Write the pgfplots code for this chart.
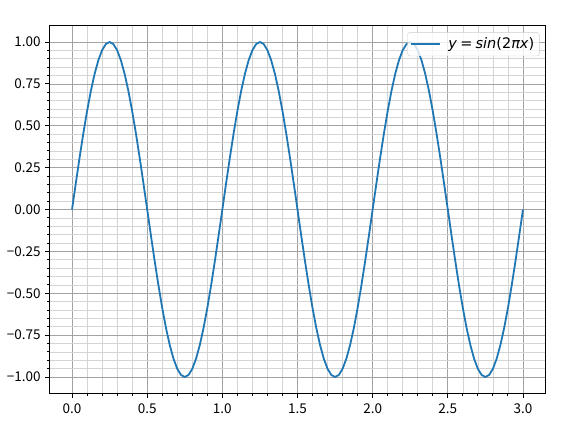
\documentclass[border=0pt]{standalone}
\usepackage{fontspec}
\usepackage{pgfplots}
\pgfplotsset{compat=1.18}
\newfontfamily\jpfont{Noto Sans CJK JP}
\newfontfamily\djv{DejaVu Sans}
\definecolor{mplblue}{HTML}{1F77B4}
\begin{document}
\begin{tikzpicture}
\begin{axis}[
  scale only axis,
  width=496pt, height=368.5pt,
  xmin=-0.15, xmax=3.15, ymin=-1.1, ymax=1.1,
  xtick={0,0.5,1,1.5,2,2.5,3},
  xticklabels={0.0,0.5,1.0,1.5,2.0,2.5,3.0},
  ytick={-1,-0.75,-0.5,-0.25,0,0.25,0.5,0.75,1},
  yticklabels={−1.00,−0.75,−0.50,−0.25,0.00,0.25,0.50,0.75,1.00},
  minor x tick num=4, minor y tick num=4,
  grid=both,
  major grid style={color=black!36, line width=0.65pt},
  minor grid style={color=black!17, line width=0.55pt},
  tick align=outside, tick pos=left,
  major tick length=4.3pt, minor tick length=2.4pt,
  every tick/.style={black, line width=0.9pt},
  axis line style={line width=0.9pt},
  ticklabel style={font=\jpfont\fontsize{13.5}{15}\selectfont},
  xticklabel style={yshift=-2pt},
  yticklabel style={xshift=-1pt},
  legend style={at={(0.988,0.981)}, anchor=north east, rounded corners=2.5pt,
    draw=black!20, fill=white, fill opacity=0.8, text opacity=1,
    font=\djv\fontsize{14.5}{17}\selectfont, inner xsep=3pt, inner ysep=3.5pt},
  legend cell align=left,
  legend image code/.code={\draw[#1, line width=1.8pt] (0pt,0pt) -- (29pt,0pt); \path (34pt,0pt);},
]
\addplot[mplblue, line width=1.8pt] table {
x y
0.000 0
0.025 0.1564
0.050 0.3090
0.075 0.4540
0.100 0.5878
0.125 0.7071
0.150 0.8090
0.175 0.8910
0.200 0.9511
0.225 0.9877
0.250 1
0.275 0.9877
0.300 0.9511
0.325 0.8910
0.350 0.8090
0.375 0.7071
0.400 0.5878
0.425 0.4540
0.450 0.3090
0.475 0.1564
0.500 0
0.525 -0.1564
0.550 -0.3090
0.575 -0.4540
0.600 -0.5878
0.625 -0.7071
0.650 -0.8090
0.675 -0.8910
0.700 -0.9511
0.725 -0.9877
0.750 -1
0.775 -0.9877
0.800 -0.9511
0.825 -0.8910
0.850 -0.8090
0.875 -0.7071
0.900 -0.5878
0.925 -0.4540
0.950 -0.3090
0.975 -0.1564
1.000 0
1.025 0.1564
1.050 0.3090
1.075 0.4540
1.100 0.5878
1.125 0.7071
1.150 0.8090
1.175 0.8910
1.200 0.9511
1.225 0.9877
1.250 1
1.275 0.9877
1.300 0.9511
1.325 0.8910
1.350 0.8090
1.375 0.7071
1.400 0.5878
1.425 0.4540
1.450 0.3090
1.475 0.1564
1.500 0
1.525 -0.1564
1.550 -0.3090
1.575 -0.4540
1.600 -0.5878
1.625 -0.7071
1.650 -0.8090
1.675 -0.8910
1.700 -0.9511
1.725 -0.9877
1.750 -1
1.775 -0.9877
1.800 -0.9511
1.825 -0.8910
1.850 -0.8090
1.875 -0.7071
1.900 -0.5878
1.925 -0.4540
1.950 -0.3090
1.975 -0.1564
2.000 0
2.025 0.1564
2.050 0.3090
2.075 0.4540
2.100 0.5878
2.125 0.7071
2.150 0.8090
2.175 0.8910
2.200 0.9511
2.225 0.9877
2.250 1
2.275 0.9877
2.300 0.9511
2.325 0.8910
2.350 0.8090
2.375 0.7071
2.400 0.5878
2.425 0.4540
2.450 0.3090
2.475 0.1564
2.500 0
2.525 -0.1564
2.550 -0.3090
2.575 -0.4540
2.600 -0.5878
2.625 -0.7071
2.650 -0.8090
2.675 -0.8910
2.700 -0.9511
2.725 -0.9877
2.750 -1
2.775 -0.9877
2.800 -0.9511
2.825 -0.8910
2.850 -0.8090
2.875 -0.7071
2.900 -0.5878
2.925 -0.4540
2.950 -0.3090
2.975 -0.1564
3.000 0
};
\addlegendentry{\textit{y}\hspace{0.22em}=\hspace{0.22em}\textit{sin}(2\textit{πx})}
\end{axis}
\path (current axis.south west) ++(-49.5pt,-37.25pt);
\path (current axis.north east) ++(16.5pt,25.25pt);
\end{tikzpicture}
\end{document}
